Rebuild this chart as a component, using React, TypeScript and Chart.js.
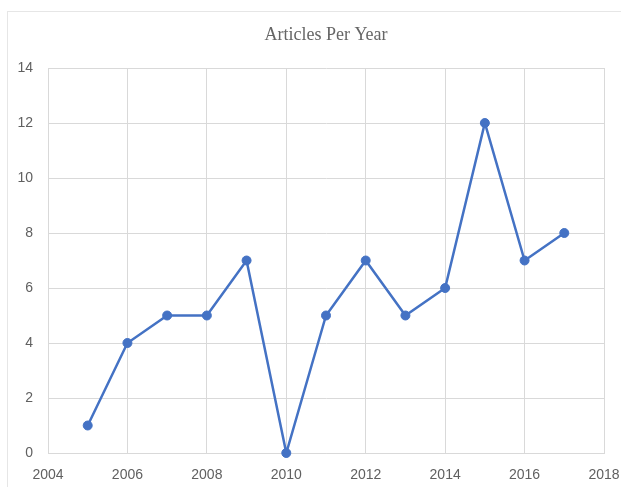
import React, { useEffect, useRef } from "react";
import { Chart, registerables } from "chart.js";

Chart.register(...registerables);

const years = [2005, 2006, 2007, 2008, 2009, 2010, 2011, 2012, 2013, 2014, 2015, 2016, 2017];
const articles = [1, 4, 5, 5, 7, 0, 5, 7, 5, 6, 12, 7, 8];
const xTicks = [2004, 2006, 2008, 2010, 2012, 2014, 2016, 2018];
const yTicks = [0, 2, 4, 6, 8, 10, 12, 14];
const titleText = "Articles Per Year";

export default function App() {
  const ref = useRef<HTMLCanvasElement | null>(null);
  useEffect(() => {
    if (!ref.current) return;
    const gridColor = "#d9d9d9";
    const tickColor = "#606060";
    const chart = new Chart(ref.current, {
      type: "line",
      data: {
        datasets: [
          {
            data: years.map((y, i) => ({ x: y, y: articles[i] })),
            borderColor: "#4472C4",
            backgroundColor: "#4472C4",
            borderWidth: 2.5,
            pointRadius: 4.5,
            pointHoverRadius: 4.5,
            pointBackgroundColor: "#4472C4",
            pointBorderColor: "#4472C4",
            pointBorderWidth: 1,
            tension: 0,
            fill: false,
            clip: false,
          },
        ],
      },
      options: {
        animation: false,
        responsive: false,
        maintainAspectRatio: false,
        layout: { padding: { top: 24, left: 10, right: 17, bottom: 0 } },
        plugins: {
          legend: { display: false },
          tooltip: { enabled: false },
          title: {
            display: true,
            text: titleText,
            fullSize: false,
            color: "#666666",
            font: { family: "'Liberation Serif', 'Times New Roman', serif", size: 18, weight: "normal", lineHeight: 1.2 },
            padding: { top: 0, bottom: 22.4 },
          },
        },
        scales: {
          x: {
            type: "linear",
            min: xTicks[0],
            max: xTicks[xTicks.length - 1],
            afterBuildTicks: (scale: any) => {
              scale.ticks = xTicks.map((v) => ({ value: v }));
            },
            afterFit: (scale: any) => {
              scale.height = 34;
              scale.paddingLeft = 0;
              scale.paddingRight = 0;
            },
            grid: { color: gridColor, lineWidth: 1, drawTicks: false },
            border: { color: gridColor, width: 1 },
            ticks: {
              color: tickColor,
              padding: 14,
              maxRotation: 0,
              autoSkip: false,
              font: { family: "'Liberation Sans', Arial, sans-serif", size: 14 },
              callback: (v: any) => String(v),
            },
          },
          y: {
            min: yTicks[0],
            max: yTicks[yTicks.length - 1],
            afterBuildTicks: (scale: any) => {
              scale.ticks = yTicks.map((v) => ({ value: v }));
            },
            afterFit: (scale: any) => {
              scale.width = 38;
              scale.paddingTop = 0;
              scale.paddingBottom = 0;
            },
            grid: { color: gridColor, lineWidth: 1, drawTicks: false },
            border: { color: gridColor, width: 1 },
            ticks: {
              color: tickColor,
              padding: 15,
              autoSkip: false,
              font: { family: "'Liberation Sans', Arial, sans-serif", size: 14 },
              callback: (v: any) => String(v),
            },
          },
        },
      },
    });
    return () => chart.destroy();
  }, []);

  return (
    <div style={{ position: "fixed", left: 0, top: 0, width: 621, height: 487, background: "#fff", overflow: "hidden" }}>
      <div
        style={{
          position: "absolute",
          left: 7,
          top: 11,
          width: 640,
          height: 500,
          borderTop: "1px solid #e6e6e6",
          borderLeft: "1px solid #e6e6e6",
        }}
      />
      <canvas ref={ref} width={621} height={487} style={{ position: "absolute", left: 0, top: 0, width: 621, height: 487 }} />
    </div>
  );
}
